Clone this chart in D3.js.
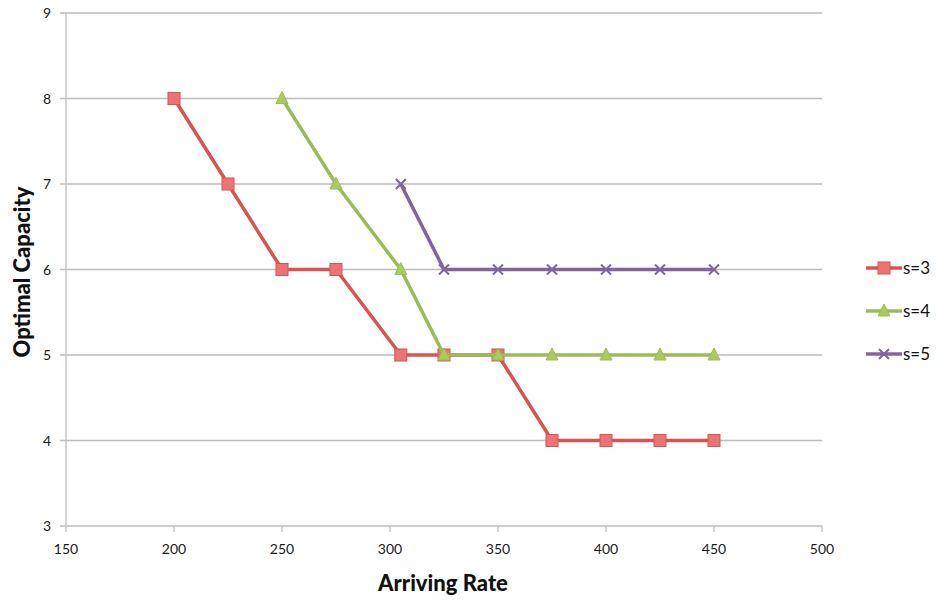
<!DOCTYPE html>
<html><head><meta charset="utf-8">
<script src="https://cdn.jsdelivr.net/npm/d3@7"></script>
<style>body{margin:0;background:#fff;} text{font-family:Lato,"Open Sans",sans-serif;}</style>
</head><body><svg id="c" width="941" height="601"></svg>
<script>
const xTicks = [150,200,250,300,350,400,450,500];
const yTicks = [3,4,5,6,7,8,9];
const s3x = [200,225,250,275,305,325,350,375,400,425,450];
const s3y = [8,7,6,6,5,5,5,4,4,4,4];
const s4x = [250,275,305,325,350,375,400,425,450];
const s4y = [8,7,6,5,5,5,5,5,5];
const s5x = [305,325,350,375,400,425,450];
const s5y = [7,6,6,6,6,6,6];
const seriesNames = ["s=3","s=4","s=5"];

const svg = d3.select("#c");
const x = d3.scaleLinear().domain([150,500]).range([66,822]);
const y = d3.scaleLinear().domain([3,9]).range([526,13]);

svg.append("g").selectAll("line").data(yTicks).join("line")
  .attr("x1",60).attr("x2",822).attr("y1",d=>y(d)).attr("y2",d=>y(d))
  .attr("stroke","#bdbdbd").attr("stroke-width",1.3);
svg.append("line").attr("x1",66).attr("x2",66).attr("y1",13).attr("y2",526).attr("stroke","#bdbdbd").attr("stroke-width",1.3);
svg.append("g").selectAll("line").data(xTicks).join("line")
  .attr("x1",d=>x(d)).attr("x2",d=>x(d)).attr("y1",526).attr("y2",532)
  .attr("stroke","#bdbdbd").attr("stroke-width",1.3);
svg.append("g").selectAll("text").data(xTicks).join("text")
  .attr("x",d=>x(d)).attr("y",554).attr("text-anchor","middle")
  .attr("font-size",14).attr("fill","#1a1a1a").text(d=>d);
svg.append("g").selectAll("text").data(yTicks).join("text")
  .attr("x",51).attr("y",d=>y(d)+5).attr("text-anchor","end")
  .attr("font-size",14).attr("fill","#1a1a1a").text(d=>d);

svg.append("text").attr("x",443).attr("y",591).attr("text-anchor","middle")
  .attr("font-size",22).attr("font-weight",900).attr("fill","#111").text("Arriving Rate");
svg.append("text").attr("transform","translate(30,272) rotate(-90)").attr("text-anchor","middle")
  .attr("font-size",22).attr("font-weight",900).attr("fill","#111").text("Optimal Capacity");

const series = [
  {xs:s3x, ys:s3y, color:"#d9534f", fill:"#ec7474", marker:"square"},
  {xs:s4x, ys:s4y, color:"#9bbb59", fill:"#a9cc5e", marker:"triangle"},
  {xs:s5x, ys:s5y, color:"#8064a2", fill:"#8064a2", marker:"x"}
];
const line = d3.line().x(d=>x(d[0])).y(d=>y(d[1]));

function drawMarker(g, cx, cy, s){
  if(s.marker==="square"){
    g.append("rect").attr("x",cx-6).attr("y",cy-6).attr("width",12).attr("height",12)
      .attr("fill",s.fill).attr("stroke",s.color).attr("stroke-width",1);
  } else if(s.marker==="triangle"){
    g.append("path").attr("d",`M${cx},${cy-7}L${cx+6},${cy+5}L${cx-6},${cy+5}Z`)
      .attr("fill",s.fill).attr("stroke",s.color).attr("stroke-width",1);
  } else {
    g.append("path").attr("d",`M${cx-5},${cy-5}L${cx+5},${cy+5}M${cx+5},${cy-5}L${cx-5},${cy+5}`)
      .attr("stroke",s.color).attr("stroke-width",2);
  }
}

series.forEach(s=>{
  const pts = s.xs.map((v,i)=>[v,s.ys[i]]);
  svg.append("path").attr("d",line(pts)).attr("fill","none").attr("stroke",s.color).attr("stroke-width",3.5);
  const g = svg.append("g");
  pts.forEach(p=>drawMarker(g, x(p[0]), y(p[1]), s));
});

series.forEach((s,i)=>{
  const ly = 268 + i*43;
  svg.append("line").attr("x1",866).attr("x2",902).attr("y1",ly).attr("y2",ly).attr("stroke",s.color).attr("stroke-width",3.5);
  const g = svg.append("g");
  drawMarker(g, 884, ly, s);
  svg.append("text").attr("x",903).attr("y",ly+6).attr("font-size",17).attr("fill","#111").text(seriesNames[i]);
});
</script></body></html>
